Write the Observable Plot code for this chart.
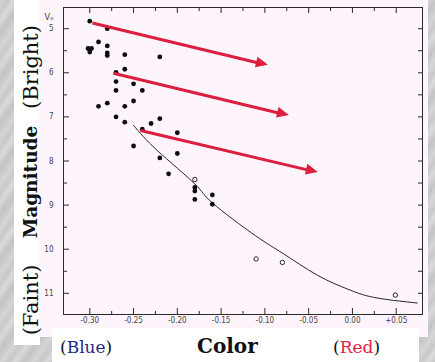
<!DOCTYPE html>
<html>
<head>
<meta charset="utf-8">
<script src="https://cdn.jsdelivr.net/npm/d3@7"></script>
<script src="https://cdn.jsdelivr.net/npm/@observablehq/plot@0.6"></script>
<style>
  html, body { margin: 0; padding: 0; }
  body {
    width: 435px; height: 362px; overflow: hidden; position: relative;
    background: repeating-linear-gradient(125deg, #d6d6d6 0px, #c9c9c9 7px, #dadada 12px, #c4c4c4 19px, #d2d2d2 26px);
  }
  #leftbox { position: absolute; left: 14px; top: 0; width: 26px; height: 345px; background: #ffffff; }
  #chart { position: absolute; left: 39px; top: 0; width: 389px; height: 337px; background: #fdf4fc; }
  #chart svg { display: block; }
  #bottombox { position: absolute; left: 52px; top: 328px; width: 367px; height: 34px; background: #ffffff; }
  .ylab {
    position: absolute; white-space: nowrap; font-family: "DejaVu Serif", serif; color: #111;
    transform: translate(-50%, -50%) rotate(-90deg); line-height: 1;
  }
  .xlab { position: absolute; white-space: nowrap; font-family: "DejaVu Serif", serif; color: #111; line-height: 1; }
</style>
</head>
<body>
<div id="leftbox"></div>
<div id="chart"></div>
<div id="bottombox"></div>
<div class="ylab" style="left:31px; top:67px; font-size:21px;">(Bright)</div>
<div class="ylab" style="left:31px; top:182px; font-size:18.5px; font-weight:bold;">Magnitude</div>
<div class="ylab" style="left:31px; top:300px; font-size:21px;">(Faint)</div>
<div class="xlab" style="left:60px; top:339px; font-size:17px;">(<span style="color:#1f2a84">Blue</span>)</div>
<div class="xlab" style="left:197px; top:336px; font-size:20px; font-weight:bold;">Color</div>
<div class="xlab" style="left:333px; top:339px; font-size:17px;">(<span style="color:#e3203f">Red</span>)</div>
<script>
// ---- data ----
// filled circles (stars): color index and magnitude
const starColor = [-0.300, -0.280, -0.290, -0.302, -0.298, -0.300, -0.280, -0.280, -0.280, -0.260,
                   -0.220, -0.260, -0.270, -0.270, -0.250, -0.270, -0.240, -0.250, -0.290, -0.280,
                   -0.260, -0.270, -0.260, -0.230, -0.220, -0.240, -0.200, -0.250, -0.220, -0.200,
                   -0.210, -0.180, -0.180, -0.180, -0.160, -0.160];
const starMag   = [4.83, 5.00, 5.30, 5.45, 5.45, 5.53, 5.39, 5.55, 5.61, 5.59,
                   5.64, 5.92, 5.99, 6.20, 6.25, 6.40, 6.40, 6.64, 6.76, 6.69,
                   6.76, 7.00, 7.12, 7.15, 7.04, 7.28, 7.36, 7.66, 7.93, 7.83,
                   8.29, 8.60, 8.68, 8.87, 8.77, 8.98];
// open circles
const openColor = [-0.180, -0.110, -0.080, 0.049];
const openMag   = [8.42, 10.22, 10.30, 11.04];
// main-sequence curve
const curveColor = [-0.250, -0.223, -0.180, -0.160, -0.111, -0.079, -0.040, -0.006, 0.024, 0.074];
const curveMag   = [7.19, 7.76, 8.52, 8.95, 9.69, 10.10, 10.59, 10.90, 11.09, 11.22];
// red arrows (start -> end)
const arrowColor1 = [-0.297, -0.273, -0.242];
const arrowMag1   = [4.87, 6.01, 7.31];
const arrowColor2 = [-0.096, -0.072, -0.039];
const arrowMag2   = [5.83, 6.97, 8.26];
// axis ticks
const colorTicks = [-0.30, -0.25, -0.20, -0.15, -0.10, -0.05, 0.00, 0.05];
const colorTickLabels = ["-0.30", "-0.25", "-0.20", "-0.15", "-0.10", "-0.05", "0.00", "+0.05"];
const colorMinorTicks = [-0.275, -0.225, -0.175, -0.125, -0.075, -0.025, 0.025];
const magTicks = [5, 6, 7, 8, 9, 10, 11];
const magTickLabels = ["5", "6", "7", "8", "9", "10", "11"];
const magMinorTicks = [5.5, 6.5, 7.5, 8.5, 9.5, 10.5];
const yTitle = "V\u2092";

// ---- build tables ----
const stars = starColor.map((c, i) => ({c, m: starMag[i]}));
const opens = openColor.map((c, i) => ({c, m: openMag[i]}));
const curve = curveColor.map((c, i) => ({c, m: curveMag[i]}));
const arrows = arrowColor1.map((c, i) => ({c1: c, m1: arrowMag1[i], c2: arrowColor2[i], m2: arrowMag2[i]}));

const RED = "#dc1f3e";
const INK = "#2a2a2a";
const tickFont = "'DejaVu Sans Condensed', 'Liberation Sans Narrow', 'DejaVu Sans', sans-serif";

const chart = Plot.plot({
  width: 389, height: 337,
  marginLeft: 24, marginRight: 6, marginTop: 7, marginBottom: 23,
  style: {background: "transparent", fontFamily: tickFont, fontSize: "8px", color: "#444", overflow: "visible"},
  x: {domain: [-0.33, 0.08]},
  y: {domain: [4.52, 11.48], reverse: true},
  marks: [
    // inward ticks, all four sides
    Plot.axisX({anchor: "bottom", ticks: colorTicks, tickSize: 6, dy: -6, tickFormat: () => "", label: null, stroke: INK}),
    Plot.axisX({anchor: "bottom", ticks: colorMinorTicks, tickSize: 3, dy: -3, tickFormat: () => "", label: null, stroke: INK}),
    Plot.axisX({anchor: "top", ticks: colorTicks, tickSize: 5, dy: 5, tickFormat: () => "", label: null, stroke: INK}),
    Plot.axisX({anchor: "top", ticks: colorMinorTicks, tickSize: 3, dy: 3, tickFormat: () => "", label: null, stroke: INK}),
    Plot.axisY({anchor: "left", ticks: magTicks, tickSize: 6, dx: 6, tickFormat: () => "", label: null, stroke: INK}),
    Plot.axisY({anchor: "left", ticks: magMinorTicks, tickSize: 4, dx: 4, tickFormat: () => "", label: null, stroke: INK}),
    Plot.axisY({anchor: "right", ticks: magTicks, tickSize: 5, dx: -5, tickFormat: () => "", label: null, stroke: INK}),
    Plot.axisY({anchor: "right", ticks: magMinorTicks, tickSize: 5, dx: -5, tickFormat: () => "", label: null, stroke: INK}),
    // tick labels
    Plot.axisX({anchor: "bottom", ticks: colorTicks, tickSize: 0, tickPadding: 3,
                tickFormat: d => colorTickLabels[colorTicks.indexOf(d)], label: null, fill: "#444"}),
    Plot.axisY({anchor: "left", ticks: magTicks, tickSize: 0, tickPadding: 10,
                tickFormat: d => magTickLabels[magTicks.indexOf(d)], label: null, fill: "#444"}),
    Plot.text([yTitle], {frameAnchor: "top-left", text: d => d, dx: -10, dy: 6, textAnchor: "end", fill: "#444", fontSize: 9}),
    Plot.frame({stroke: INK, strokeWidth: 1}),
    // main sequence curve
    Plot.line(curve, {x: "c", y: "m", curve: "natural", stroke: "#111", strokeWidth: 0.9}),
    // stars
    Plot.dot(stars, {x: "c", y: "m", r: 2.4, fill: "#0d0d0d", stroke: "none"}),
    Plot.dot(opens, {x: "c", y: "m", r: 2.2, fill: "#fdf4fc", stroke: "#111", strokeWidth: 0.9}),
    // red arrows (shaft)
    Plot.arrow(arrows, {x1: "c1", y1: "m1", x2: "c2", y2: "m2", stroke: RED, strokeWidth: 3,
                        headLength: 0, insetEnd: 9, strokeLinecap: "butt"})
  ]
});

// arrow heads, positioned through the plot's own scales
const sx = chart.scale("x"), sy = chart.scale("y");
const svg = d3.select(chart);
arrows.forEach(a => {
  const x1 = sx.apply(a.c1), y1 = sy.apply(a.m1), x2 = sx.apply(a.c2), y2 = sy.apply(a.m2);
  const L = Math.hypot(x2 - x1, y2 - y1), ux = (x2 - x1) / L, uy = (y2 - y1) / L;
  const hl = 12, hw = 5.5;
  const bx = x2 - hl * ux, by = y2 - hl * uy;
  const pts = [[x2, y2], [bx - hw * uy, by + hw * ux], [bx + hw * uy, by - hw * ux]];
  svg.append("polygon").attr("points", pts.map(p => p.join(",")).join(" ")).attr("fill", RED);
});

document.getElementById("chart").appendChild(chart);
</script>
</body>
</html>
